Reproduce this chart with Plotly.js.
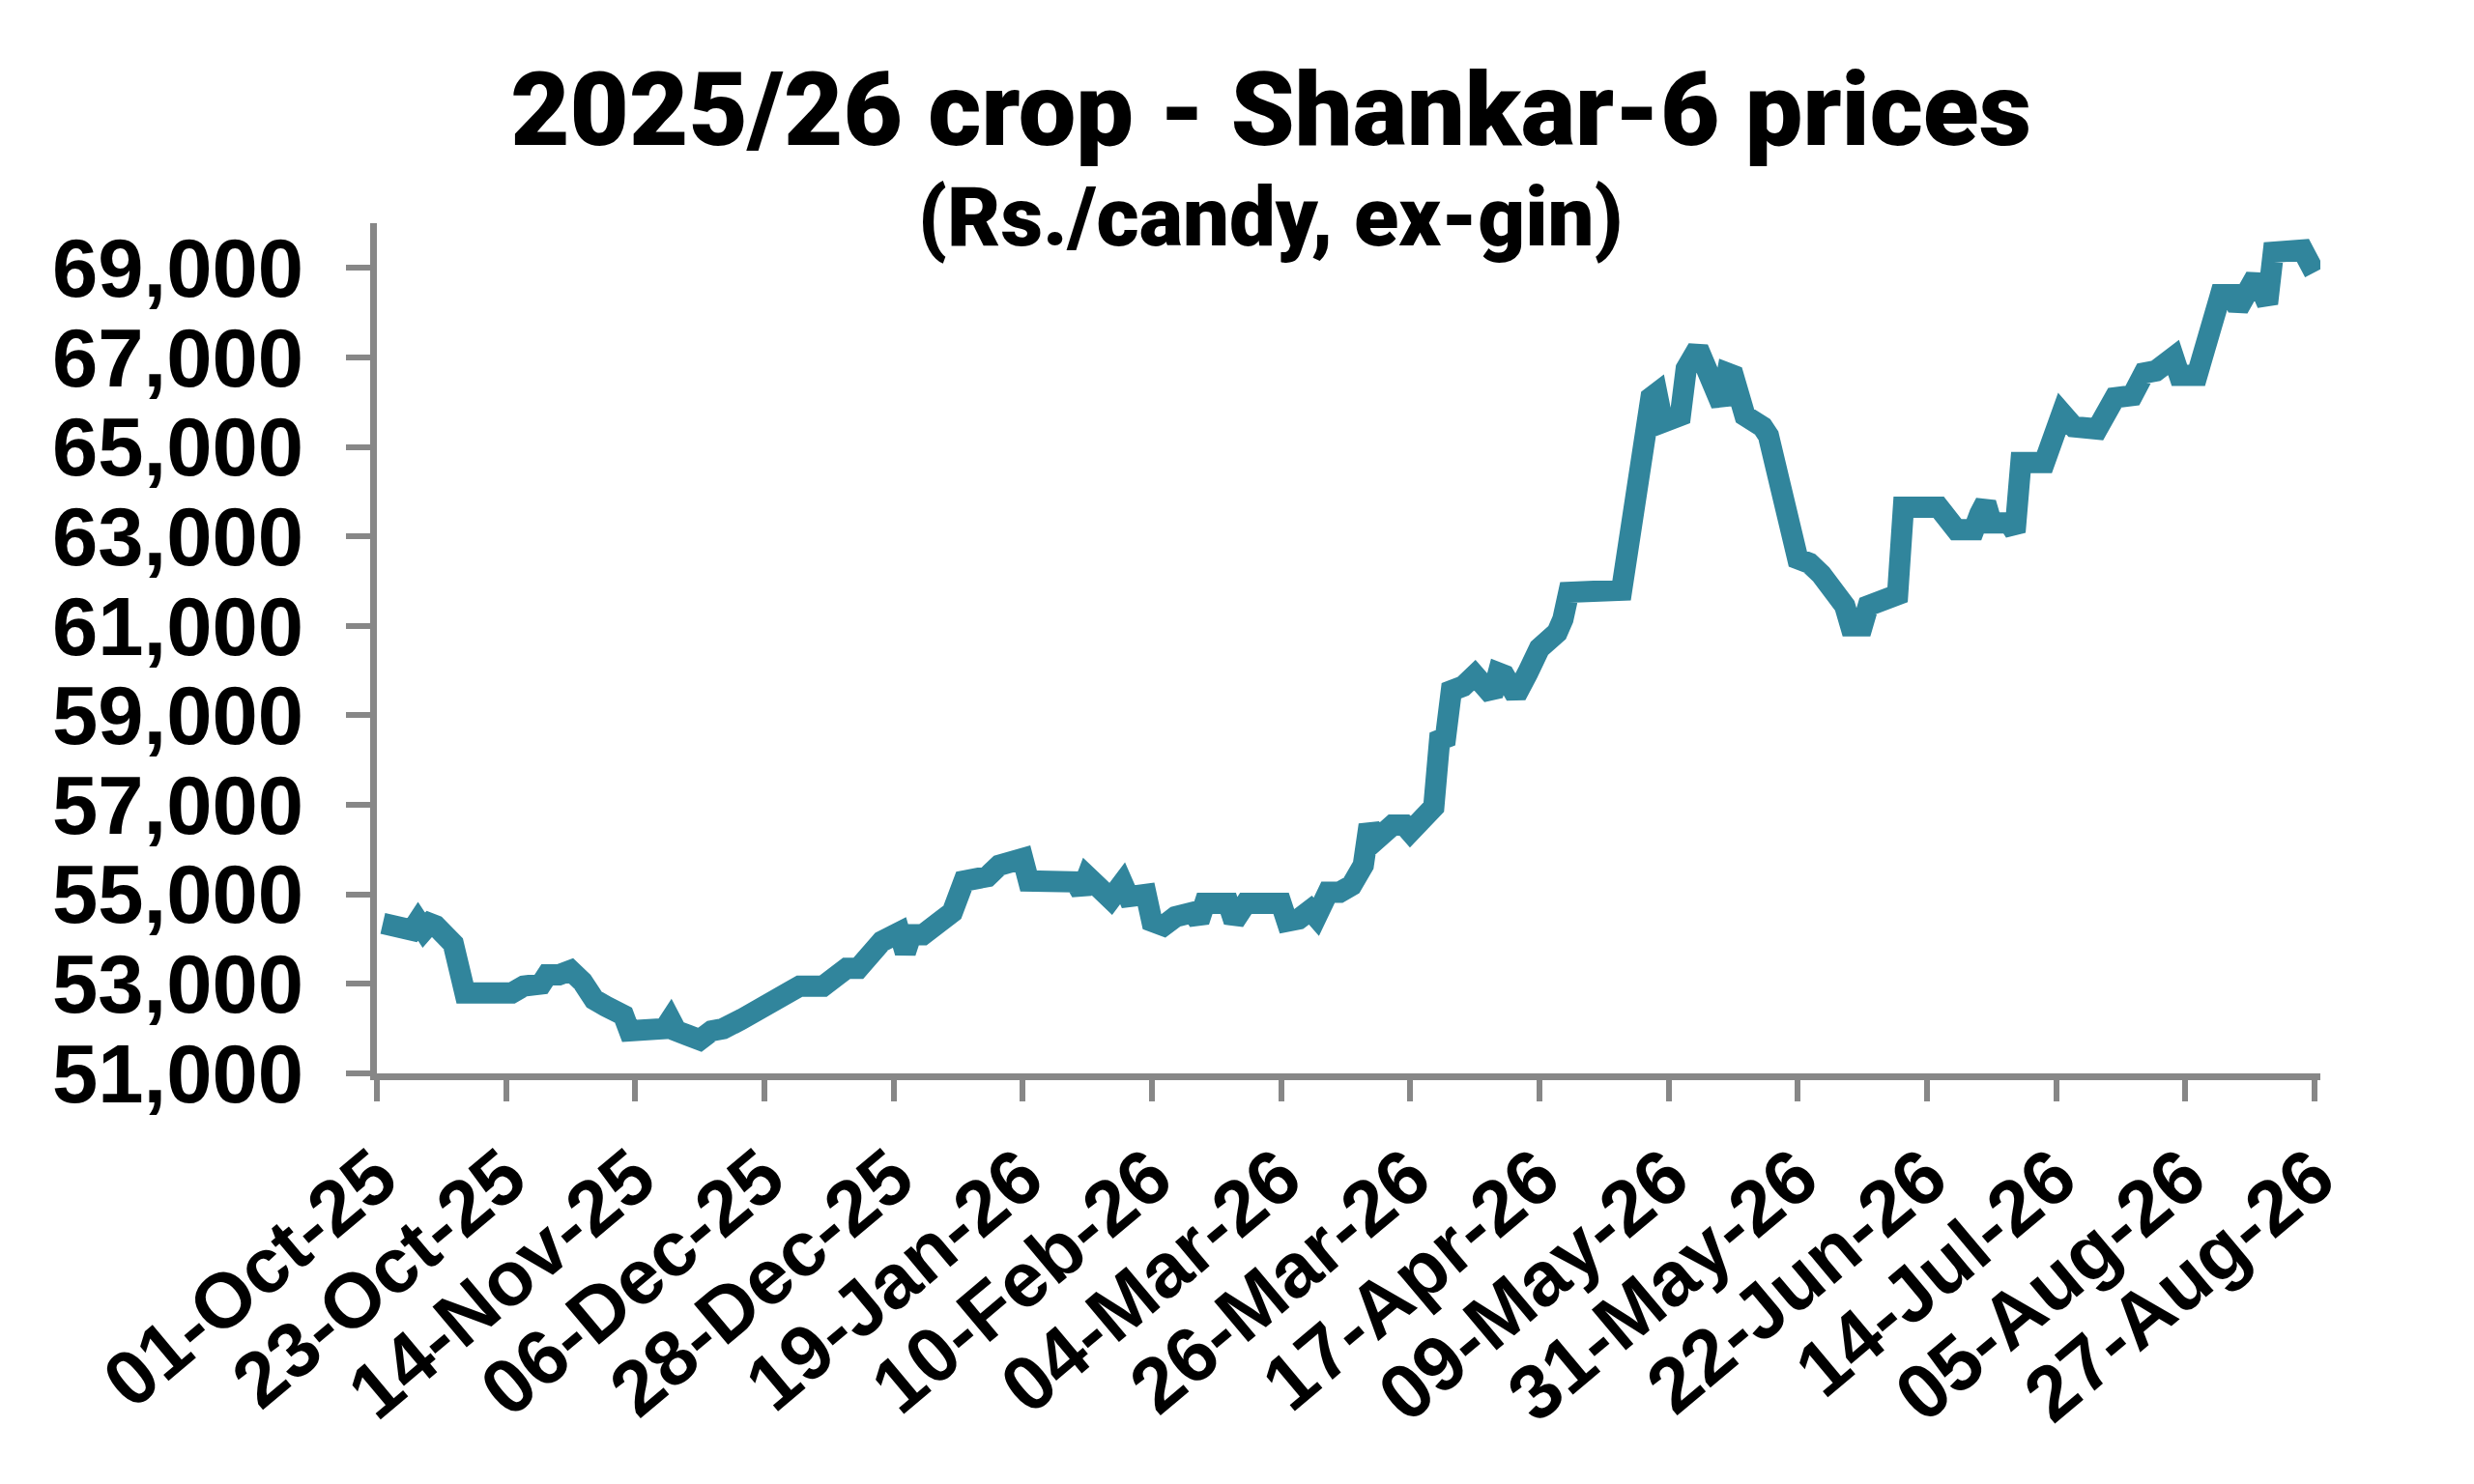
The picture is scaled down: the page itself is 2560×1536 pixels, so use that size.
<!DOCTYPE html>
<html>
<head>
<meta charset="utf-8">
<script src="https://cdn.plot.ly/plotly-3.0.1.min.js"></script>
<style>
  html, body { margin: 0; padding: 0; background: #ffffff; }
  #myChart { width: 2560px; height: 1536px; }
</style>
</head>
<body>
<div id="myChart"></div>
<script>
// Shankar-6 prices, 2025/26 crop (Rs./candy, ex-gin)
// x = days after 01-Oct-25
var start_date = '2025-10-01';
var day_offsets = [
  1, 3, 6, 7, 8, 9, 10, 13, 15, 23, 25, 28, 29, 31, 33, 35, 37, 39, 42, 43,
  47, 49, 50, 51, 53, 55, 57, 59, 62, 64, 67, 70, 72, 76, 78, 80, 82, 84, 86, 89,
  90, 91, 93, 96, 98, 100, 103, 104, 106, 108, 110, 111, 119, 120, 121, 123, 125, 127, 128, 131,
  132, 134, 136, 139, 140, 141, 145, 146, 148, 154, 155, 157, 159, 160, 162, 164, 166, 168, 169, 170,
  173, 175, 176, 180, 181, 182, 183, 185, 187, 190, 191, 192, 194, 196, 198, 201, 202, 203, 211, 212,
  217, 218, 219, 222, 223, 225, 229, 230, 231, 233, 236, 237, 242, 244, 246, 250, 251, 253, 254, 256,
  258, 259, 260, 266, 269, 272, 273, 274, 275, 278, 279, 280, 284, 287, 289, 293, 296, 299, 301, 303,
  306, 307, 310, 314, 316, 317, 320, 322, 323, 328, 330
];
var prices = [
  54350, 54300, 54200, 54400, 54200, 54350, 54300, 53900, 52800, 52800, 52950, 53000, 53200, 53200, 53300, 53050, 52650, 52500, 52300, 51950,
  52000, 52000, 52200, 51950, 51850, 51750, 51950, 52000, 52200, 52350, 52600, 52750, 52950, 52950, 53150, 53350, 53350, 53750, 53950, 54150,
  53700, 54100, 54100, 54400, 54600, 55300, 55300, 55400, 55650, 55700, 55800, 55300, 55280, 55050, 55400, 55150, 54900, 55250, 54950, 55000,
  54400, 54300, 54500, 54600, 54400, 54800, 54800, 54400, 54800, 54800, 54400, 54450, 54650, 54500, 55050, 55050, 55200, 55650, 56550, 56200,
  56550, 56550, 56400, 56950, 58450, 58500, 59550, 59650, 59900, 59450, 59950, 59900, 59450, 59950, 60500, 60850, 61150, 61750, 61800, 61800,
  66100, 66200, 65550, 65700, 66750, 67200, 65950, 66650, 66600, 65700, 65450, 65250, 62500, 62400, 62150, 61450, 61000, 61000, 61450, 61550,
  61700, 61700, 63650, 63650, 63150, 63150, 63500, 63750, 63300, 63300, 63100, 64650, 64650, 65750, 65450, 65400, 66100, 66150, 66650, 66700,
  67000, 66600, 66600, 68400, 68400, 68100, 68800, 68200, 69350, 69400, 68900
];
var tick_days = [0, 22, 44, 66, 88, 110, 132, 154, 176, 198, 220, 242, 264, 286, 308, 330];
var tick_labels = ['01-Oct-25', '23-Oct-25', '14-Nov-25', '06-Dec-25', '28-Dec-25', '19-Jan-26',
  '10-Feb-26', '04-Mar-26', '26-Mar-26', '17-Apr-26', '09-May-26', '31-May-26',
  '22-Jun-26', '14-Jul-26', '05-Aug-26', '27-Aug-26'];
var y_ticks = [51000, 53000, 55000, 57000, 59000, 61000, 63000, 65000, 67000, 69000];

function day_to_date(d) {
  var t = new Date(start_date + 'T00:00:00Z');
  t.setUTCDate(t.getUTCDate() + d);
  return t.toISOString().slice(0, 10);
}

var x_dates = [];
for (var i = 0; i < day_offsets.length; i++) {
  x_dates.push(day_to_date(day_offsets[i]));
}
var tick_dates = [];
for (var j = 0; j < tick_days.length; j++) {
  tick_dates.push(day_to_date(tick_days[j]));
}

var axis_grey = '#878787';
var title_family = 'Roboto, Liberation Sans, Arial, sans-serif';
var tick_family = 'Liberation Sans, Arial, sans-serif';

var priceTrace = {
  x: x_dates,
  y: prices,
  type: 'scatter',
  mode: 'lines',
  line: {color: '#31859C', width: 22},
  hoverinfo: 'skip'
};

var layout = {
  width: 2560,
  height: 1536,
  paper_bgcolor: '#ffffff',
  plot_bgcolor: '#ffffff',
  showlegend: false,
  margin: {l: 390, r: 159, t: 231, b: 425},
  title: {
    text: '2025/26 crop - Shankar-6 prices',
    font: {family: title_family, size: 106, color: '#000000', weight: 900},
    xref: 'paper', x: 0.46, xanchor: 'center',
    yref: 'container', y: 1 - 113 / 1536, yanchor: 'middle'
  },
  annotations: [{
    text: '(Rs./candy, ex-gin)',
    font: {family: title_family, size: 85, color: '#000000', weight: 900},
    xref: 'paper', x: 0.46, xanchor: 'center',
    yref: 'paper', y: 1.007, yanchor: 'middle',
    showarrow: false
  }],
  xaxis: {
    type: 'date',
    range: [day_to_date(0), day_to_date(331)],
    tickvals: tick_dates,
    ticktext: tick_labels,
    tickangle: -40,
    tickfont: {family: tick_family, size: 80, color: '#000000', weight: 'bold'},
    showline: true, linecolor: axis_grey, linewidth: 7,
    ticks: 'outside', ticklen: 22, tickwidth: 6, tickcolor: axis_grey,
    showgrid: false, zeroline: false
  },
  yaxis: {
    range: [51000, 70000],
    tickvals: y_ticks,
    tickformat: ',d',
    tickfont: {family: tick_family, size: 85, color: '#000000', weight: 'bold'},
    showline: true, linecolor: axis_grey, linewidth: 7,
    ticks: 'outside', ticklen: 25, tickwidth: 6, tickcolor: axis_grey,
    ticklabelstandoff: 27,
    showgrid: false, zeroline: false
  }
};

Plotly.newPlot('myChart', [priceTrace], layout, {staticPlot: true});
</script>
</body>
</html>
